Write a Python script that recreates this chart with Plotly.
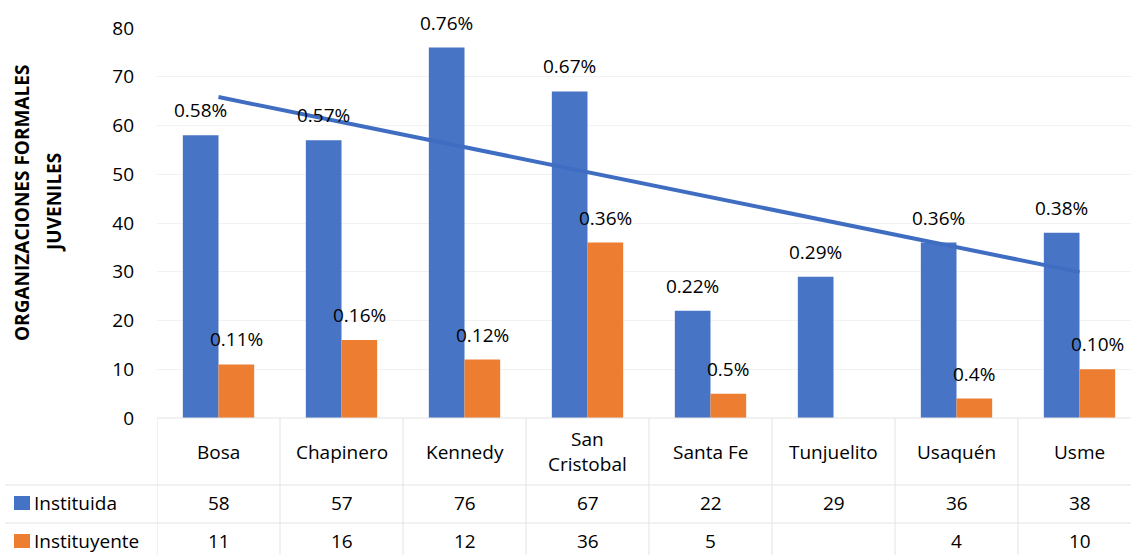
import numpy as np
import plotly.graph_objects as go

categories = ["Bosa", "Chapinero", "Kennedy", "San<br>Cristobal", "Santa Fe", "Tunjuelito", "Usaquén", "Usme"]
instituida = [58, 57, 76, 67, 22, 29, 36, 38]
instituyente = [11, 16, 12, 36, 5, None, 4, 10]
lbl_instituida = ["0.58%", "0.57%", "0.76%", "0.67%", "0.22%", "0.29%", "0.36%", "0.38%"]
lbl_instituyente = ["0.11%", "0.16%", "0.12%", "0.36%", "0.5%", "", "0.4%", "0.10%"]
y_ticks = [0, 10, 20, 30, 40, 50, 60, 70, 80]

BLUE = "#4472C4"
BLUE_BAR = "#4874C6"
ORANGE = "#ED7D31"
FONT = "Open Sans"
FS = 19
W, H = 1131, 555
ML, MR, MT, MB = 157, 0, 28, 137
COLW = 123.0
BARGAP = 0.42
PW = W - ML - MR
PH = H - MT - MB
n = len(categories)
x = list(range(n))
half = (1 - BARGAP) / 4  # offset of each bar center within group

fig = go.Figure()
fig.add_trace(go.Bar(x=x, y=instituida, name="Instituida", marker=dict(color=BLUE_BAR, line=dict(width=0))))
fig.add_trace(go.Bar(x=x, y=instituyente, name="Instituyente", marker=dict(color=ORANGE, line=dict(width=0))))

# linear trendline of Instituida
coef = np.polyfit(x, instituida, 1)
tx = [x[0], x[-1]]
ty = [coef[0] * v + coef[1] for v in tx]
fig.add_trace(go.Scatter(x=tx, y=ty, mode="lines", line=dict(color="#3F6DC2", width=4), hoverinfo="skip"))

def py(pix):
    return (H - MB - pix) / PH

def pxp(pix):
    return (pix - ML) / PW

shapes = []
annotations = []
txtfont = dict(family=FONT, size=FS, color="#000")

# bar labels
for i in range(n):
    annotations.append(dict(x=i - half, y=instituida[i], xref="x", yref="y", text=lbl_instituida[i],
                            showarrow=False, yanchor="middle", yshift=25, font=txtfont))
    if instituyente[i] is not None and lbl_instituyente[i]:
        annotations.append(dict(x=i + half, y=instituyente[i], xref="x", yref="y", text=lbl_instituyente[i],
                                showarrow=False, yanchor="middle", yshift=25, font=txtfont))

# table lines
LC = "#E3E3E3"
for k in range(n + 1):
    shapes.append(dict(type="line", xref="x", yref="paper", x0=k - 0.5, x1=k - 0.5,
                       y0=0, y1=py(H), line=dict(color=LC, width=1)))
shapes.append(dict(type="line", xref="paper", yref="paper", x0=0, x1=1, y0=0, y1=0,
                   line=dict(color=LC, width=1)))
for pix in [485, 523]:
    shapes.append(dict(type="line", xref="paper", yref="paper", x0=pxp(5), x1=1,
                       y0=py(pix), y1=py(pix), line=dict(color=LC, width=1)))

for i, c in enumerate(categories):
    annotations.append(dict(x=i, y=py(452), xref="x", yref="paper", text=c, showarrow=False,
                            font=txtfont, yanchor="middle"))
    annotations.append(dict(x=i, y=py(503), xref="x", yref="paper", text=str(instituida[i]), showarrow=False,
                            font=txtfont, yanchor="middle"))
    v = instituyente[i]
    annotations.append(dict(x=i, y=py(541), xref="x", yref="paper", text="" if v is None else str(v),
                            showarrow=False, font=txtfont, yanchor="middle"))

for name, col, pix in [("Instituida", BLUE, 503), ("Instituyente", ORANGE, 541)]:
    shapes.append(dict(type="rect", xref="paper", yref="paper", x0=pxp(14), x1=pxp(30),
                       y0=py(pix + 7), y1=py(pix - 7), fillcolor=col, line=dict(width=0)))
    annotations.append(dict(x=pxp(32), y=py(pix), xref="paper", yref="paper", text=name,
                            showarrow=False, xanchor="left", yanchor="middle", font=txtfont))

# y-axis title (two lines)
for txt, xc in [("<b>ORGANIZACIONES FORMALES</b>", 22), ("<b>JUVENILES</b>", 54)]:
    annotations.append(dict(x=pxp(xc), y=py(203), xref="paper", yref="paper", text=txt, textangle=-90,
                            showarrow=False, xanchor="center", yanchor="middle",
                            font=dict(family=FONT, size=19, color="#000")))

fig.update_layout(
    width=W, height=H, margin=dict(l=ML, r=MR, t=MT, b=MB),
    paper_bgcolor="white", plot_bgcolor="white",
    barmode="group", bargap=BARGAP, bargroupgap=0,
    showlegend=False, shapes=shapes, annotations=annotations,
    font=txtfont,
    xaxis=dict(range=[-0.5, -0.5 + PW / COLW], showticklabels=False, showgrid=False,
               zeroline=False, showline=False, ticks=""),
    yaxis=dict(range=[0, 80], tickvals=y_ticks, showgrid=True, gridcolor="#F2F2F2",
               zeroline=False, showline=False, ticks="", ticklabelstandoff=22,
               tickfont=txtfont),
)
fig.write_html("out.html", config={"displayModeBar": False},
               post_script="document.body.style.margin='0';document.body.style.overflow='hidden';")
